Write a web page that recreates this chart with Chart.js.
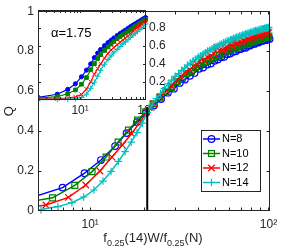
<!DOCTYPE html>
<html>
<head>
<meta charset="utf-8">
<script src="https://cdn.jsdelivr.net/npm/chart.js@4.4.1/dist/chart.umd.min.js"></script>
<style>
  html, body { margin: 0; padding: 0; background: #fff; }
  #wrap { position: relative; width: 299px; height: 250px; }
  #wrap canvas { position: absolute; left: 0; top: 0; }
  #insetChart { z-index: 1; }
  #mainChart { z-index: 2; }
</style>
</head>
<body>
<div id="wrap">
  <canvas id="insetChart" width="175" height="125"></canvas>
  <canvas id="mainChart" width="299" height="250"></canvas>
</div>
<script>
// series
const seriesLabels = ['N=8', 'N=10', 'N=12', 'N=14'];
const seriesColors = ['#0000ff', '#008000', '#ff0000', '#00bfbf'];
const seriesMarkers = ['circle', 'rect', 'crossRot', 'cross'];
const markerSizes = [3.3, 4.2, 4.6, 3.8];
const insetMarkerSizes = [2.1, 2.6, 3.0, 2.8];

// main panel: x = f0.25(14)W/f0.25(N), y = Q
const n8X = [4.8, 7.0, 9.3, 11.5, 13.8, 16.0, 18.3, 20.5, 22.8, 25.0, 27.3, 29.5, 31.8, 34.0, 36.3, 38.5, 40.8, 43.0, 45.3, 47.5,
  49.8, 52.0, 54.3, 56.5, 58.8, 61.0, 63.3, 65.5, 67.8, 70.0, 72.3, 74.5, 76.8, 79.0, 81.3, 83.5, 85.8, 88.0, 90.3, 92.5,
  94.8, 97.0, 99.3, 101.5];
const n8Q = [0.070, 0.117, 0.189, 0.255, 0.325, 0.390, 0.445, 0.490, 0.528, 0.560, 0.592, 0.612, 0.641, 0.658, 0.677, 0.691, 0.712, 0.718, 0.733, 0.738,
  0.752, 0.758, 0.770, 0.772, 0.785, 0.788, 0.797, 0.799, 0.808, 0.811, 0.818, 0.817, 0.827, 0.828, 0.836, 0.836, 0.844, 0.843, 0.850, 0.851,
  0.857, 0.855, 0.862, 0.861];

const n10X = [4.1, 6.15, 8.2, 10.25, 12.3, 14.35, 16.4, 18.45, 20.5, 22.55, 24.6, 26.65, 28.7, 30.75, 32.8, 34.85, 36.9, 38.95, 41.0, 43.05,
  45.1, 47.15, 49.2, 51.25, 53.3, 55.35, 57.4, 59.45, 61.5, 63.55, 65.6, 67.65, 69.7, 71.75, 73.8, 75.85, 77.9, 79.95, 82.0, 84.05,
  86.1, 88.15, 90.2, 92.25, 94.3, 96.35, 98.4, 100.45];
const n10Q = [0.040, 0.066, 0.128, 0.197, 0.270, 0.345, 0.405, 0.455, 0.496, 0.537, 0.566, 0.598, 0.619, 0.647, 0.664, 0.688, 0.699, 0.717, 0.724, 0.742,
  0.749, 0.760, 0.766, 0.777, 0.781, 0.792, 0.794, 0.803, 0.806, 0.814, 0.816, 0.824, 0.825, 0.832, 0.833, 0.840, 0.841, 0.847, 0.847, 0.854,
  0.854, 0.860, 0.859, 0.866, 0.865, 0.871, 0.870, 0.876];

const n12X = [3.75, 5.65, 7.55, 9.45, 11.35, 13.25, 15.15, 17.05, 18.95, 20.85, 22.75, 24.65, 26.55, 28.45, 30.35, 32.25, 34.15, 36.05, 37.95, 39.85,
  41.75, 43.65, 45.55, 47.45, 49.35, 51.25, 53.15, 55.05, 56.95, 58.85, 60.75, 62.65, 64.55, 66.45, 68.35, 70.25, 72.15, 74.05, 75.95, 77.85,
  79.75, 81.65, 83.55, 85.45, 87.35, 89.25, 91.15, 93.05, 94.95, 96.85, 98.75, 100.65];
const n12Q = [0.012, 0.030, 0.068, 0.130, 0.200, 0.270, 0.330, 0.387, 0.442, 0.496, 0.537, 0.572, 0.603, 0.627, 0.653, 0.671, 0.693, 0.705, 0.724, 0.733,
  0.762, 0.756, 0.770, 0.775, 0.788, 0.820, 0.803, 0.805, 0.815, 0.817, 0.838, 0.827, 0.855, 0.837, 0.845, 0.845, 0.853, 0.853, 0.860, 0.860,
  0.867, 0.866, 0.873, 0.885, 0.879, 0.878, 0.885, 0.883, 0.890, 0.888, 0.895, 0.893];

const n14X = [4.0, 5.3, 6.6, 7.9, 9.2, 10.5, 11.8, 13.1, 14.4, 15.7, 17.0, 18.3, 19.6, 20.9, 22.2, 23.5, 24.8, 26.1, 27.4, 28.7,
  30.0, 31.3, 32.6, 33.9, 35.2, 36.5, 37.8, 39.1, 40.4, 41.7, 43.0, 44.3, 45.6, 46.9, 48.2, 49.5, 50.8, 52.1, 53.4, 54.7,
  56.0, 57.3, 58.6, 59.9, 61.2, 62.5, 63.8, 65.1, 66.4, 67.7, 69.0, 70.3, 71.6, 72.9, 74.2, 75.5, 76.8, 78.1, 79.4, 80.7,
  82.0, 83.3, 84.6, 85.9, 87.2, 88.5, 89.8, 91.1, 92.4, 93.7, 95.0, 96.3, 97.6, 98.9, 100.2];
const n14Q = [0.000, 0.007, 0.022, 0.042, 0.070, 0.105, 0.150, 0.198, 0.248, 0.297, 0.345, 0.392, 0.440, 0.493, 0.530, 0.562, 0.588, 0.613, 0.636, 0.655,
  0.674, 0.688, 0.704, 0.716, 0.730, 0.740, 0.752, 0.760, 0.770, 0.777, 0.786, 0.792, 0.800, 0.805, 0.812, 0.816, 0.823, 0.826, 0.833, 0.836,
  0.842, 0.844, 0.850, 0.852, 0.857, 0.859, 0.864, 0.865, 0.870, 0.871, 0.876, 0.876, 0.881, 0.881, 0.886, 0.886, 0.891, 0.890, 0.895, 0.894,
  0.899, 0.898, 0.903, 0.901, 0.906, 0.905, 0.909, 0.908, 0.912, 0.911, 0.915, 0.913, 0.917, 0.916, 0.919];

const crossX = 20.9;
const crossTop = 0.52;
const mainYTicks = [0, 0.2, 0.4, 0.6, 0.8, 1];
const mainXLabels = [10, 100];
const mainXMarks = [6, 7, 8, 9, 10, 20, 30, 40, 50, 60, 70, 80, 90, 100];

// inset: raw W, alpha = 1.75
const insetW = [2.3, 4.5, 6.5, 8.5, 10.5, 12.5, 14.5, 16.5, 18.5, 20.5, 23.5, 26.5, 29.5, 32.5, 36.5, 40.5, 44.5, 48.5,
  53.5, 58.5, 63.5, 68.5, 74.5, 80.5, 86.5, 92.5, 98.5];
const in8Q = [0.030, 0.064, 0.118, 0.180, 0.258, 0.333, 0.402, 0.472, 0.522, 0.562, 0.605, 0.638, 0.665, 0.690, 0.717, 0.740, 0.759, 0.777,
  0.798, 0.817, 0.834, 0.848, 0.864, 0.879, 0.893, 0.906, 0.918];
const in10Q = [0.020, 0.038, 0.070, 0.112, 0.175, 0.250, 0.337, 0.405, 0.462, 0.505, 0.552, 0.590, 0.623, 0.652, 0.683, 0.707, 0.728, 0.745,
  0.765, 0.785, 0.803, 0.819, 0.836, 0.853, 0.868, 0.882, 0.895];
const in12Q = [0.010, 0.015, 0.022, 0.035, 0.062, 0.122, 0.203, 0.287, 0.350, 0.402, 0.466, 0.518, 0.557, 0.585, 0.615, 0.643, 0.667, 0.688,
  0.714, 0.740, 0.764, 0.785, 0.806, 0.826, 0.846, 0.862, 0.877];
const in14Q = [0.004, 0.006, 0.009, 0.013, 0.028, 0.065, 0.130, 0.197, 0.265, 0.330, 0.398, 0.450, 0.490, 0.525, 0.563, 0.595, 0.622, 0.645,
  0.672, 0.697, 0.720, 0.740, 0.762, 0.784, 0.805, 0.825, 0.845];
const insetYTicks = [0.2, 0.4, 0.6, 0.8];
const insetXLabels = [10, 100];
const insetXMarks = [3, 4, 5, 6, 7, 8, 9, 10, 20, 30, 40, 50, 60, 70, 80, 90];
const alphaText = 'α=1.75';

const FONT = '"Liberation Sans", Arial, Helvetica, sans-serif';
const INK = '#262626';
Chart.defaults.font.family = FONT;
Chart.defaults.color = INK;

const sup = ['⁰', '¹', '²', '³'];
const powLabel = v => '10' + sup[Math.round(Math.log10(v))];
const toPoints = (xs, ys) => xs.map((x, i) => ({ x: x, y: ys[i] }));

// box with inward ticks, like the original axes
function framePlugin(id, xMarks, yMarks, tickLen, skip) {
  return {
    id: id,
    afterDatasetsDraw(chart) {
      const { ctx, chartArea: a, scales } = chart;
      const l = Math.round(a.left) + 0.5, r = Math.round(a.right) - 0.5;
      const t = Math.round(a.top) + 0.5, b = Math.round(a.bottom) - 0.5;
      ctx.save();
      ctx.strokeStyle = INK;
      ctx.lineWidth = 1;
      ctx.beginPath();
      xMarks.forEach(v => {
        const px = Math.round(scales.x.getPixelForValue(v)) + 0.5;
        if (px <= l || px >= r) return;
        ctx.moveTo(px, b); ctx.lineTo(px, b - tickLen);
        if (!skip || !skip('top', px)) { ctx.moveTo(px, t); ctx.lineTo(px, t + tickLen); }
      });
      yMarks.forEach(v => {
        const py = Math.round(scales.y.getPixelForValue(v)) + 0.5;
        if (py <= t || py >= b) return;
        if (!skip || !skip('left', py)) { ctx.moveTo(l, py); ctx.lineTo(l + tickLen, py); }
        ctx.moveTo(r, py); ctx.lineTo(r - tickLen, py);
      });
      ctx.stroke();
      ctx.strokeRect(l, t, r - l, b - t);
      ctx.restore();
    }
  };
}

// legend in a box inside the plot
const boxLegend = {
  id: 'boxLegend',
  afterDraw(chart, args, o) {
    const ctx = chart.ctx;
    ctx.save();
    ctx.fillStyle = '#fff';
    ctx.fillRect(o.x, o.y, o.w, o.h);
    ctx.strokeStyle = INK;
    ctx.lineWidth = 1;
    ctx.strokeRect(o.x + 0.5, o.y + 0.5, o.w, o.h);
    chart.data.datasets.slice(0, seriesLabels.length).forEach((ds, i) => {
      const cy = o.y + o.first + i * o.step;
      ctx.strokeStyle = ds.borderColor;
      ctx.lineWidth = ds.borderWidth;
      ctx.beginPath();
      ctx.moveTo(o.x + 2, cy);
      ctx.lineTo(o.x + 19, cy);
      ctx.stroke();
      ctx.fillStyle = 'rgba(0,0,0,0)';
      ctx.lineWidth = ds.pointBorderWidth;
      Chart.helpers.drawPoint(ctx, {
        pointStyle: ds.pointStyle, radius: ds.pointRadius,
        borderWidth: ds.pointBorderWidth, rotation: 0
      }, o.x + 10.5, cy);
      ctx.fillStyle = '#000';
      ctx.font = '11px ' + FONT;
      ctx.textAlign = 'left';
      ctx.textBaseline = 'middle';
      ctx.fillText(ds.label, o.x + 21, cy);
    });
    ctx.restore();
  }
};

// x axis title with subscripts
const xTitle = {
  id: 'xTitle',
  afterDraw(chart, args, o) {
    const ctx = chart.ctx;
    ctx.save();
    ctx.fillStyle = INK;
    ctx.textBaseline = 'alphabetic';
    ctx.textAlign = 'left';
    const fontOf = p => (p.sub ? o.subSize : o.size) + 'px ' + FONT;
    let total = 0;
    o.parts.forEach(p => { ctx.font = fontOf(p); total += ctx.measureText(p.t).width; });
    let x = o.cx - total / 2;
    o.parts.forEach(p => {
      ctx.font = fontOf(p);
      ctx.fillText(p.t, x, o.baseline + (p.sub ? o.subDrop : 0));
      x += ctx.measureText(p.t).width;
    });
    ctx.restore();
  }
};

const insetNote = {
  id: 'insetNote',
  afterDraw(chart, args, o) {
    const ctx = chart.ctx;
    ctx.save();
    ctx.fillStyle = '#000';
    ctx.font = o.size + 'px ' + FONT;
    ctx.textAlign = 'left';
    ctx.textBaseline = 'middle';
    ctx.fillText(o.text, o.x, o.y);
    ctx.restore();
  }
};

// ---------- inset (drawn underneath) ----------
const insetSeries = [in8Q, in10Q, in12Q, in14Q];
new Chart(document.getElementById('insetChart'), {
  type: 'line',
  data: {
    datasets: insetSeries.map((qs, i) => ({
      label: seriesLabels[i],
      data: toPoints(insetW, qs),
      borderColor: seriesColors[i],
      backgroundColor: seriesColors[i],
      pointBackgroundColor: seriesColors[i],
      pointBorderColor: seriesColors[i],
      borderWidth: 1.2,
      pointBorderWidth: 1,
      pointRadius: insetMarkerSizes[i],
      pointStyle: seriesMarkers[i],
      order: 3 - i,
      clip: { left: 0, top: 3, right: 3, bottom: 3 }
    }))
  },
  options: {
    responsive: false,
    animation: false,
    devicePixelRatio: 1,
    layout: { padding: { left: 38, top: 8, right: 0, bottom: 0 } },
    elements: { line: { tension: 0 } },
    plugins: {
      legend: { display: false },
      tooltip: { enabled: false },
      insetNote: { text: alphaText, x: 51, y: 33, size: 13 }
    },
    scales: {
      x: {
        type: 'logarithmic', min: 2.3, max: 100,
        grid: { display: false, drawTicks: false }, border: { display: false },
        afterBuildTicks: s => { s.ticks = insetXLabels.map(v => ({ value: v })); },
        afterFit: s => { s.height = 25; },
        ticks: { padding: 3, maxRotation: 0, autoSkip: false, font: { size: 12 }, callback: v => powLabel(v) }
      },
      y: {
        position: 'right', min: 0, max: 1,
        grid: { display: false, drawTicks: false }, border: { display: false },
        afterBuildTicks: s => { s.ticks = insetYTicks.map(v => ({ value: v })); },
        afterFit: s => { s.width = 29; },
        ticks: { padding: 3, font: { size: 12 }, callback: v => String(v) }
      }
    }
  },
  plugins: [framePlugin('insetFrame', insetXMarks, insetYTicks, 2.5), insetNote]
});

// ---------- main panel ----------
const mainSeries = [[n8X, n8Q], [n10X, n10Q], [n12X, n12Q], [n14X, n14Q]];
new Chart(document.getElementById('mainChart'), {
  type: 'line',
  data: {
    datasets: mainSeries.map(([xs, qs], i) => ({
      label: seriesLabels[i],
      data: toPoints(xs, qs),
      borderColor: seriesColors[i],
      backgroundColor: 'rgba(0,0,0,0)',
      pointBackgroundColor: 'rgba(0,0,0,0)',
      pointBorderColor: seriesColors[i],
      borderWidth: 1.5,
      pointBorderWidth: 1.2,
      pointRadius: markerSizes[i],
      pointStyle: seriesMarkers[i],
      order: 3 - i,
      clip: { left: 0, top: 5, right: 5, bottom: 5 }
    })).concat([{
      label: 'crossing',
      data: [{ x: crossX, y: 0 }, { x: crossX, y: crossTop }],
      borderColor: '#000',
      borderWidth: 2,
      pointRadius: 0,
      order: -1
    }])
  },
  options: {
    responsive: false,
    animation: false,
    devicePixelRatio: 1,
    layout: { padding: { left: 0, right: 29, top: 8, bottom: 0 } },
    elements: { line: { tension: 0 } },
    plugins: {
      legend: { display: false },
      tooltip: { enabled: false },
      boxLegend: { x: 201, y: 130, w: 59, h: 61, first: 9, step: 14.5 },
      xTitle: {
        cx: 153, baseline: 242, subDrop: 4, size: 13, subSize: 9,
        parts: [{ t: 'f' }, { t: '0.25', sub: true }, { t: '(14)W/f' }, { t: '0.25', sub: true }, { t: '(N)' }]
      }
    },
    scales: {
      x: {
        type: 'logarithmic', min: 5.1, max: 102,
        grid: { display: false, drawTicks: false }, border: { display: false },
        afterBuildTicks: s => { s.ticks = mainXLabels.map(v => ({ value: v })); },
        afterFit: s => { s.height = 39; },
        ticks: { padding: 6, maxRotation: 0, autoSkip: false, font: { size: 12 }, callback: v => powLabel(v) }
      },
      y: {
        min: 0, max: 1,
        grid: { display: false, drawTicks: false }, border: { display: false },
        afterBuildTicks: s => { s.ticks = mainYTicks.map(v => ({ value: v })); },
        afterFit: s => { s.width = 38; },
        ticks: { padding: 4, font: { size: 12 }, callback: v => String(v) },
        title: { display: true, text: 'Q', padding: 2, font: { size: 13 } }
      }
    }
  },
  plugins: [
    framePlugin('mainFrame', mainXMarks, mainYTicks, 3, (side, p) => side === 'top' ? p < 146 : p < 100),
    boxLegend, xTitle
  ]
});
</script>
</body>
</html>
